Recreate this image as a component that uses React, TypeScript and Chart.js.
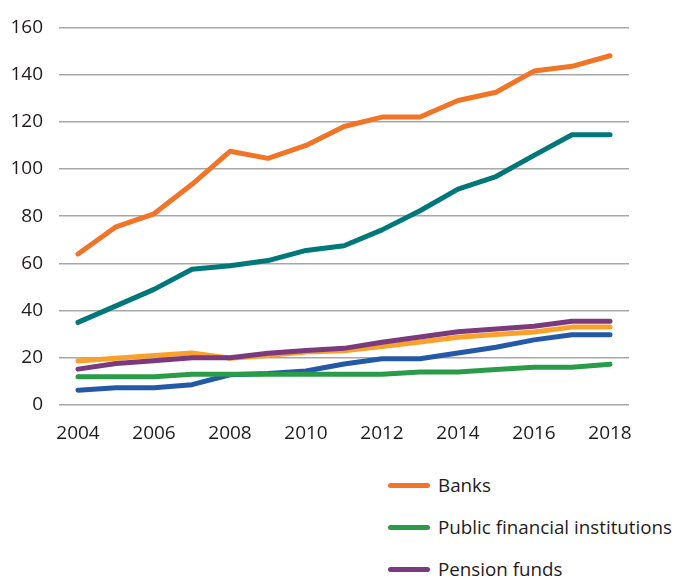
import { useEffect, useRef } from 'react';
import { Chart, registerables } from 'chart.js';

Chart.register(...registerables);

const years = ['2004', '2005', '2006', '2007', '2008', '2009', '2010', '2011', '2012', '2013', '2014', '2015', '2016', '2017', '2018'];

const banks = [64, 75.5, 81, 93.5, 107.5, 104.5, 110, 118, 122, 122, 129, 132.5, 141.5, 143.5, 148];
const tealSeries = [35, 42, 49, 57.5, 59, 61.2, 65.5, 67.5, 74.2, 82.3, 91.5, 96.8, 105.8, 114.5, 114.5];
const pensionFunds = [15.2, 17.6, 18.8, 20, 20, 21.9, 23.1, 24, 26.6, 28.8, 31, 32.2, 33.4, 35.5, 35.5];
const publicFinancial = [12, 12, 12, 13, 13, 13, 13, 13, 13, 14, 14, 15, 16, 16, 17.3];
const yellowSeries = [18.6, 19.8, 21, 22, 19.8, 21, 22.5, 23, 24.8, 26.7, 28.7, 29.9, 30.9, 33, 33];
const blueSeries = [6.3, 7.3, 7.3, 8.6, 12.8, 13.3, 14.4, 17.4, 19.6, 19.6, 22, 24.5, 27.6, 29.8, 29.8];

const yTicks = [0, 20, 40, 60, 80, 100, 120, 140, 160];

const legendLabels = ['Banks', 'Public financial institutions', 'Pension funds'];
const legendColors = ['#f27427', '#2a9b48', '#7b3a7e'];

const FONT = '"Open Sans", "DejaVu Sans", sans-serif';
const TEXT = '#1f1b1c';

export default function App() {
  const ref = useRef<HTMLCanvasElement>(null);

  useEffect(() => {
    document.body.style.margin = '0';
    const mk = (label: string, data: number[], color: string) => ({
      label,
      data,
      borderColor: color,
      backgroundColor: color,
      borderWidth: 5,
      pointRadius: 0,
      borderCapStyle: 'round' as const,
      borderJoinStyle: 'round' as const,
      tension: 0,
      fill: false,
    });
    const chart = new Chart(ref.current!, {
      type: 'line',
      data: {
        labels: years,
        datasets: [
          mk('Banks', banks, '#f27427'),
          mk('Series 2', tealSeries, '#00787a'),
          mk('Pension funds', pensionFunds, '#7b3a7e'),
          mk('Public financial institutions', publicFinancial, '#2a9b48'),
          mk('Series 5', yellowSeries, '#f9a12a'),
          mk('Series 6', blueSeries, '#2459a8'),
        ],
      },
      options: {
        responsive: false,
        animation: false,
        layout: { padding: { top: 27, right: 46, left: 0, bottom: 0 } },
        plugins: { legend: { display: false }, tooltip: { enabled: false } },
        scales: {
          x: {
            type: 'category',
            offset: true,
            grid: { display: false, drawTicks: false },
            border: { display: false },
            ticks: {
              color: TEXT,
              font: { family: FONT, size: 19 },
              padding: 17,
              maxRotation: 0,
              autoSkip: false,
              callback: (_v: any, i: number) => (i % 2 === 0 ? years[i] : ''),
            },
            afterFit: (scale: any) => {
              scale.height = 55;
            },
          },
          y: {
            min: 0,
            max: 160,
            afterBuildTicks: (scale: any) => {
              scale.ticks = yTicks.map((v) => ({ value: v }));
            },
            grid: { color: '#a7a7a7', lineWidth: 1.5, drawTicks: false },
            border: { display: false },
            ticks: {
              color: TEXT,
              font: { family: FONT, size: 19 },
              padding: 16,
            },
            afterFit: (scale: any) => {
              scale.width = 59;
            },
          },
        },
      },
    });
    return () => chart.destroy();
  }, []);

  return (
    <div style={{ position: 'relative', width: 675, height: 581, background: '#fff', fontFamily: FONT, overflow: 'hidden' }}>
      <canvas ref={ref} width={675} height={460} style={{ position: 'absolute', left: 0, top: 0 }} />
      <div style={{ position: 'absolute', left: 388, top: 464 }}>
        {legendLabels.map((l, i) => (
          <div key={l} style={{ display: 'flex', alignItems: 'center', height: 42 }}>
            <div style={{ width: 42, height: 5, borderRadius: 3, background: legendColors[i] }} />
            <span style={{ marginLeft: 8, fontSize: 18.8, color: TEXT, whiteSpace: 'nowrap' }}>{l}</span>
          </div>
        ))}
      </div>
    </div>
  );
}
